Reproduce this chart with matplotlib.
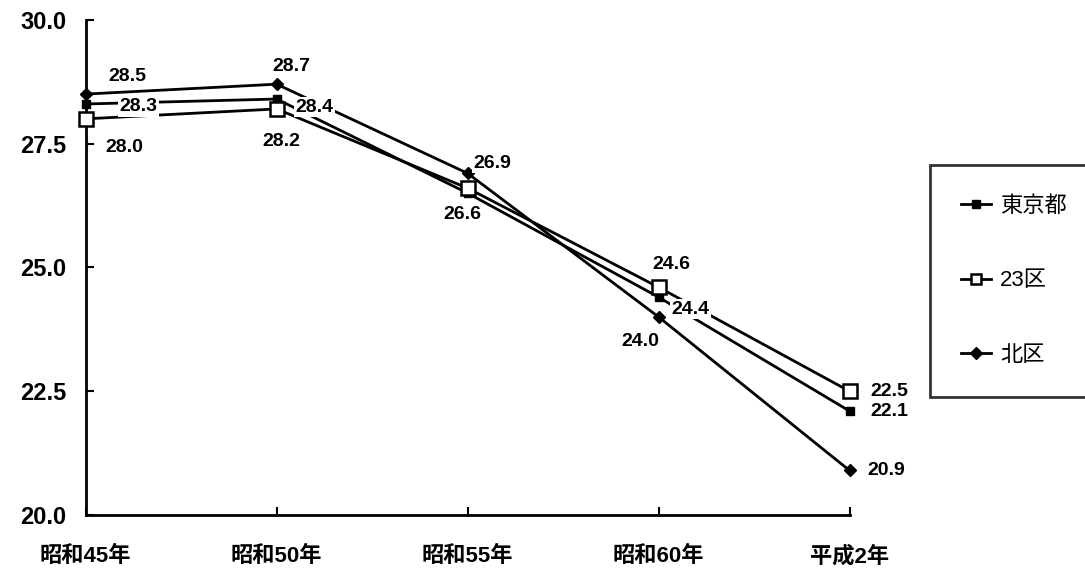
import matplotlib
matplotlib.use('Agg')
import matplotlib.pyplot as plt

years = ['昭和45年', '昭和50年', '昭和55年', '昭和60年', '平成2年']
tokyo = [28.3, 28.4, 26.5, 24.4, 22.1]
ku23 = [28.0, 28.2, 26.6, 24.6, 22.5]
kita = [28.5, 28.7, 26.9, 24.0, 20.9]

# label offsets in pixels, None means no label drawn
tokyo_off = [(53, -3), (38, -8), None, (32, -12), (40, 0)]
ku23_off = [(39, -29), (5, -33), (-5, -26), (13, 23), (40, 0)]
kita_off = [(42, 18), (15, 18), (25, 10), (-18, -25), (37, 0)]

num_font = 'Liberation Sans'
jp_font = ['Liberation Sans', 'Noto Sans CJK JP']

fig = plt.figure(figsize=(10.85, 5.82), dpi=100)
ax = fig.add_axes([0.079, 0.115, 0.704, 0.851])

x = range(len(years))
ax.plot(x, tokyo, color='black', lw=2, marker='s', ms=6, mfc='black',
        mec='black', label='東京都', clip_on=False, zorder=3)
ax.plot(x, ku23, color='black', lw=2, marker='s', ms=10, mfc='white',
        mec='black', mew=1.8, label='23区', clip_on=False, zorder=4)
ax.plot(x, kita, color='black', lw=2, marker='D', ms=6, mfc='black',
        mec='black', label='北区', clip_on=False, zorder=3)

for vals, offs in [(tokyo, tokyo_off), (ku23, ku23_off), (kita, kita_off)]:
    for i, (v, off) in enumerate(zip(vals, offs)):
        if off is None:
            continue
        ax.annotate(f'{v:.1f}', (i, v), xytext=off, textcoords='offset pixels',
                    ha='center', va='center', fontsize=14, family=num_font,
                    fontweight='bold',
                    bbox=dict(fc='white', ec='none', pad=1), zorder=5,
                    annotation_clip=False)

ax.set_xlim(0, 4)
ax.set_ylim(20, 30)
ax.set_xticks(list(x))
ax.set_xticklabels(years, family=jp_font, fontsize=16, fontweight='bold')
ax.set_yticks([20, 22.5, 25, 27.5, 30])
ax.set_yticklabels([f'{t:.1f}' for t in [20, 22.5, 25, 27.5, 30]],
                   family=num_font, fontsize=17, fontweight='bold')

for s in ['top', 'right']:
    ax.spines[s].set_visible(False)
for s in ['left', 'bottom']:
    ax.spines[s].set_linewidth(2)
ax.tick_params(axis='y', direction='in', length=6, width=1.5, pad=14)
ax.tick_params(axis='x', direction='in', length=6, width=1.5, pad=22)

leg = fig.legend(loc='upper left', bbox_to_anchor=(930 / 1085, 1 - 165 / 582 - 0.01, 0.2, 0.01),
                 mode='expand', frameon=True, fancybox=False, handlelength=1.35,
                 handletextpad=0.4, labelspacing=2.4, borderpad=1.4,
                 borderaxespad=0, prop={'family': jp_font, 'size': 16})
leg.get_frame().set_edgecolor('black')
leg.get_frame().set_linewidth(2)
for ln in leg.get_lines():
    ln.set_markersize(min(ln.get_markersize(), 7))

fig.savefig('out.png', dpi=100)
